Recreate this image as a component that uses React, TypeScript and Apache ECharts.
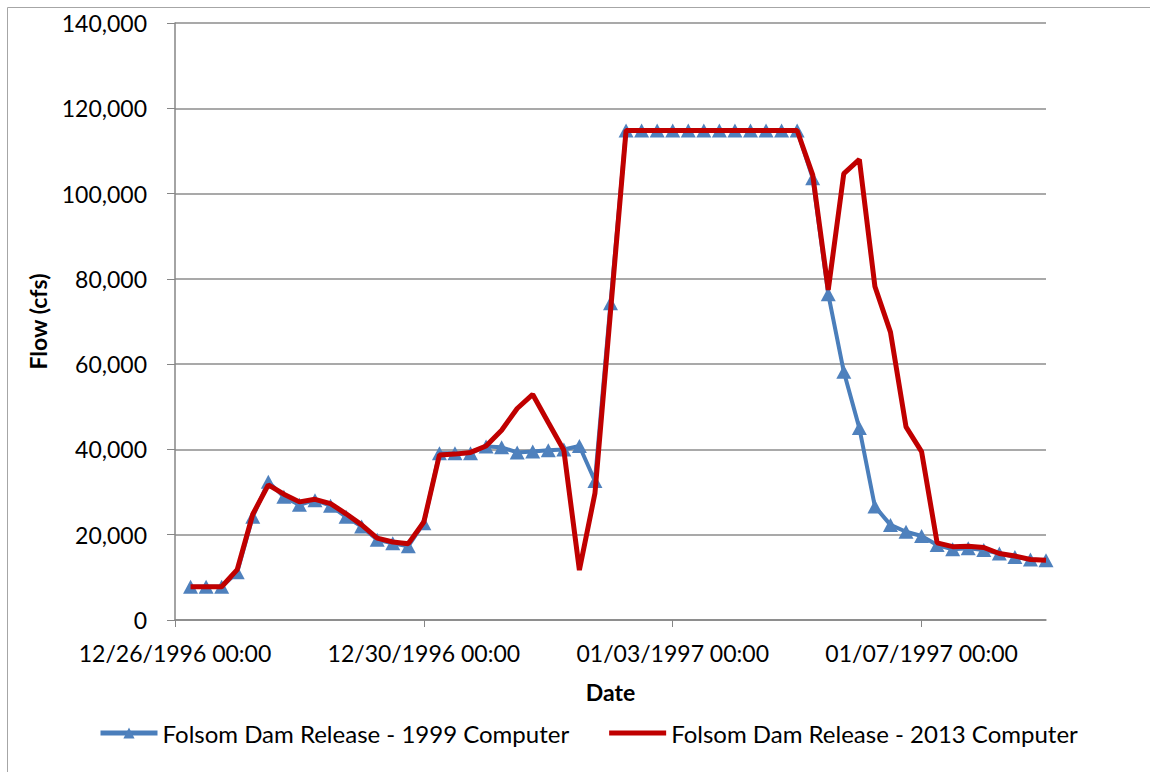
import React, { useEffect, useRef } from "react";
import * as echarts from "echarts";

// Start of the time axis and spacing of the readings (hours)
const startDateUTC = Date.UTC(1996, 11, 26, 0, 0);
const firstHour = 6;
const stepHours = 6;

const xTickHours = [0, 96, 192, 288];

const seriesNames = [
  "Folsom Dam Release - 1999 Computer",
  "Folsom Dam Release - 2013 Computer",
];

// Flow (cfs), 6-hourly
const release1999 = [
  7800, 7800, 7800, 11200, 24200, 32400, 28900, 27000, 28100, 26800,
  24200, 21900, 18800, 18000, 17300, 22700, 39100, 39100, 39100, 40700,
  40500, 39300, 39500, 39800, 40000, 40800, 32600, 74300, 114800, 114800,
  114800, 114800, 114800, 114800, 114800, 114800, 114800, 114800, 114800, 114800,
  103600, 76400, 58200, 45000, 26600, 22300, 20700, 19700, 17600, 16600,
  16800, 16400, 15600, 14800, 14200, 14000,
];

const release2013 = [
  7800, 7800, 7800, 11800, 24800, 31700, 29500, 27700, 28300, 27300,
  24900, 22300, 19200, 18300, 17900, 23000, 38700, 38900, 39300, 40800,
  44500, 49600, 52900, 46300, 39800, 11700, 29700, 72300, 114800, 114800,
  114800, 114800, 114800, 114800, 114800, 114800, 114800, 114800, 114800, 114800,
  104400, 77400, 104700, 108000, 78200, 67500, 45300, 39500, 18100, 17200,
  17300, 17000, 15600, 15000, 14200, 14000,
];

const pad = (n: number) => (n < 10 ? "0" + n : "" + n);
const fmtDate = (h: number) => {
  const d = new Date(startDateUTC + h * 3600 * 1000);
  return (
    pad(d.getUTCMonth() + 1) + "/" + pad(d.getUTCDate()) + "/" + d.getUTCFullYear() +
    " " + pad(d.getUTCHours()) + ":" + pad(d.getUTCMinutes())
  );
};

const toPairs = (vals: number[]) => vals.map((v, i) => [firstHour + i * stepHours, v]);

const FONT = "Lato, 'Open Sans', sans-serif";

// thick bar legend icon (degenerate corner points keep the bar thin inside the icon box)
const BAR_ICON = "path://M0 0 L0.01 0 Z M0 4.5 L57 4.5 L57 9.5 L0 9.5 Z M0 14 L0.01 14 Z";

export default function App() {
  const ref = useRef<HTMLDivElement>(null);
  useEffect(() => {
    if (!ref.current) return;
    const chart = echarts.init(ref.current, null, { renderer: "svg" });
    chart.setOption({
      animation: false,
      backgroundColor: "#ffffff",
      textStyle: { fontFamily: FONT },
      graphic: [
        {
          type: "rect",
          shape: { x: 7.5, y: 7.5, width: 1200, height: 800 },
          style: { fill: "none", stroke: "#a6a6a6", lineWidth: 1 },
          silent: true,
          z: -1,
        },
      ],
      grid: { left: 175, top: 23, width: 871, height: 597, containLabel: false },
      legend: {
        left: 98,
        top: 721,
        padding: 0,
        itemWidth: 57,
        itemHeight: 14,
        itemGap: 40,
        lineStyle: { width: 5 },
        data: [
          { name: seriesNames[0] },
          { name: seriesNames[1], icon: BAR_ICON },
        ],
        textStyle: { fontFamily: FONT, fontSize: 24, color: "#000" },
      },
      xAxis: {
        type: "value",
        min: 0,
        max: 336,
        interval: 96,
        name: "Date",
        nameLocation: "middle",
        nameGap: 60,
        nameTextStyle: { fontFamily: FONT, fontSize: 23, fontWeight: "bold", color: "#000" },
        axisLine: { lineStyle: { color: "#868686", width: 1.5 } },
        axisTick: { show: true, length: 7, customValues: xTickHours, lineStyle: { color: "#868686" } },
        axisLabel: {
          customValues: xTickHours,
          margin: 21,
          fontFamily: FONT,
          fontSize: 23,
          color: "#000",
          formatter: (v: number) => fmtDate(v),
        },
        splitLine: { show: false },
      },
      yAxis: {
        type: "value",
        min: 0,
        max: 140000,
        interval: 20000,
        name: "Flow (cfs)",
        nameLocation: "middle",
        nameGap: 126,
        nameTextStyle: { fontFamily: FONT, fontSize: 23, fontWeight: "bold", color: "#000" },
        axisLine: { show: true, lineStyle: { color: "#868686", width: 1.5 } },
        axisTick: { show: true, length: 8, lineStyle: { color: "#868686" } },
        axisLabel: {
          margin: 28,
          fontFamily: FONT,
          fontSize: 23,
          color: "#000",
          formatter: (v: number) => v.toLocaleString("en-US"),
        },
        splitLine: { show: true, lineStyle: { color: "#8c8c8c", width: 1.5 } },
      },
      series: [
        {
          name: seriesNames[0],
          type: "line",
          data: toPairs(release1999),
          symbol: "triangle",
          symbolSize: [15, 14],
          showSymbol: true,
          itemStyle: { color: "#4F81BD", borderColor: "#4A7EBB", borderWidth: 0 },
          lineStyle: { color: "#4A7EBB", width: 4 },
          z: 2,
        },
        {
          name: seriesNames[1],
          type: "line",
          data: toPairs(release2013),
          symbol: "none",
          itemStyle: { color: "#C00000" },
          lineStyle: { color: "#C00000", width: 5 },
          z: 3,
        },
      ],
    });
    return () => chart.dispose();
  }, []);
  return (
    <div
      ref={ref}
      style={{ position: "fixed", left: 0, top: 0, width: 1150, height: 772 }}
    />
  );
}
